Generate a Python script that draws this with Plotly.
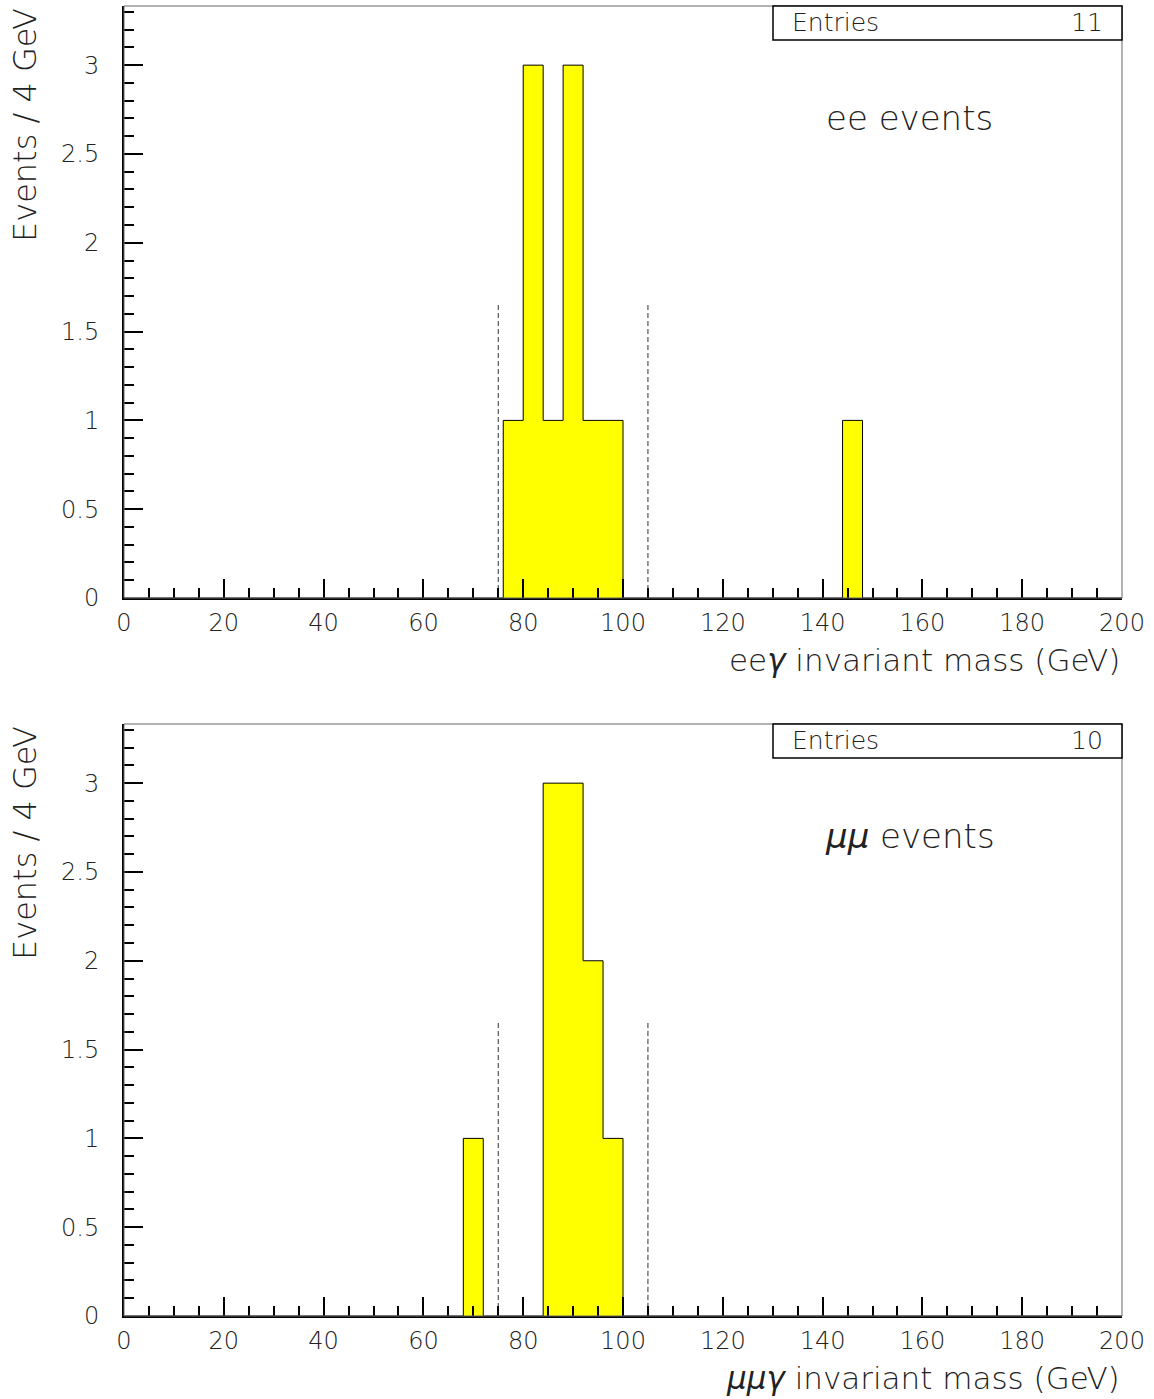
import numpy as np
import plotly.graph_objects as go

# ---- data ----
bin_width = 4
x_min, x_max = 0, 200
ee_bin_low = [76, 80, 84, 88, 92, 96, 144]
ee_counts = [1, 3, 1, 3, 1, 1, 1]
mm_bin_low = [68, 84, 88, 92, 96]
mm_counts = [1, 3, 3, 2, 1]
cut_lo, cut_hi, cut_height = 75, 105, 1.65
ee_entries = 11
mm_entries = 10
ee_label = "ee events"
mm_label = "<i>μμ</i> events"
ee_xtitle = "ee<i>γ</i> invariant mass (GeV)"
mm_xtitle = "<i>μμγ</i> invariant mass (GeV)"
ytitle = "Events / 4 GeV"

FONT = "DejaVu Sans"
TXT = "#222222"
WT = 200

fig = go.Figure()

edges = np.arange(x_min, x_max + bin_width, bin_width)
centers = edges[:-1] + bin_width / 2


def full_hist(lows, counts):
    h = np.zeros(len(centers))
    for lo, c in zip(lows, counts):
        h[int((lo - x_min) // bin_width)] = c
    return h


W, H = 1154, 1399
xdom = [124 / W, 1122 / W]
doms = [[1 - 598 / H, 1 - 6 / H], [1 - 1316 / H, 1 - 724 / H]]

panels = [
    (ee_bin_low, ee_counts, ee_entries, ee_label, ee_xtitle),
    (mm_bin_low, mm_counts, mm_entries, mm_label, mm_xtitle),
]

annotations = []
shapes = []
for i, (lows, counts, entries, label, xtitle) in enumerate(panels):
    xa = "x" if i == 0 else "x2"
    ya = "y" if i == 0 else "y2"
    h = full_hist(lows, counts)
    fig.add_trace(go.Bar(x=centers, y=h, width=bin_width, xaxis=xa, yaxis=ya,
                         marker=dict(color="#ffff00", line=dict(width=0)),
                         showlegend=False, hoverinfo="skip"))
    fig.add_trace(go.Scatter(x=edges, y=np.append(h, h[-1]), xaxis=xa, yaxis=ya,
                             mode="lines", line=dict(shape="hv", color="black", width=1),
                             showlegend=False, hoverinfo="skip"))
    for c in (cut_lo, cut_hi):
        fig.add_trace(go.Scatter(x=[c, c], y=[0, cut_height], xaxis=xa, yaxis=ya,
                                 mode="lines", line=dict(color="#333333", width=1, dash="5px,3px"),
                                 showlegend=False, hoverinfo="skip"))
    dom = doms[i]
    top_px = (1 - dom[1]) * H
    bot_px = (1 - dom[0]) * H
    shapes.append(dict(type="rect", xref="paper", yref="paper", x0=xdom[0], x1=xdom[1],
                       y0=dom[0], y1=dom[1], line=dict(color="#666666", width=1), layer="above"))
    shapes.append(dict(type="rect", xref="paper", yref="paper", x0=773 / W, x1=xdom[1],
                       y0=1 - (top_px + 34) / H, y1=dom[1], line=dict(color="black", width=1.5),
                       fillcolor="white", layer="above"))
    annotations.append(dict(xref="paper", yref="paper", x=790 / W, y=1 - (top_px + 17) / H,
                            text="Entries", showarrow=False, xanchor="left", yanchor="middle",
                            font=dict(family=FONT, size=25, color=TXT, weight=WT)))
    annotations.append(dict(xref="paper", yref="paper", x=1105 / W, y=1 - (top_px + 17) / H,
                            text=str(entries), showarrow=False, xanchor="right", yanchor="middle",
                            font=dict(family=FONT, size=25, color=TXT, weight=WT)))
    annotations.append(dict(xref=xa, yref=ya, x=157.5, y=2.70, text=label, showarrow=False,
                            xanchor="center", yanchor="middle",
                            font=dict(family=FONT, size=34, color=TXT, weight=WT)))
    annotations.append(dict(xref="paper", yref="paper", x=xdom[1], y=1 - (bot_px + 62) / H,
                            text=xtitle, showarrow=False, xanchor="right", yanchor="middle",
                            font=dict(family=FONT, size=31, color=TXT, weight=WT)))
    annotations.append(dict(xref="paper", yref="paper", x=25 / W, y=dom[1], text=ytitle,
                            textangle=-90, showarrow=False, xanchor="center", yanchor="top",
                            font=dict(family=FONT, size=32, color=TXT, weight=WT)))

axis_common = dict(showgrid=False, zeroline=False, showline=True, linecolor="black", linewidth=2,
                   ticks="inside", tickcolor="black", tickwidth=1.5, ticklen=19, automargin=False,
                   tickfont=dict(family=FONT, size=24, color=TXT, weight=WT))
xaxis_cfg = dict(axis_common, range=[x_min, x_max], tick0=0, dtick=20,
                 minor=dict(ticks="inside", ticklen=10, dtick=5, tickcolor="black", tickwidth=1.5),
                 ticklabelstandoff=2, domain=xdom)
yaxis_cfg = dict(axis_common, range=[0, 3.333], tick0=0, dtick=0.5,
                 minor=dict(ticks="inside", ticklen=10, dtick=0.1, tickcolor="black", tickwidth=1.5),
                 ticklabelstandoff=18)

fig.update_layout(
    width=W, height=H, margin=dict(l=0, r=0, t=0, b=0),
    paper_bgcolor="white", plot_bgcolor="white", bargap=0,
    xaxis=dict(xaxis_cfg, anchor="y"),
    yaxis=dict(yaxis_cfg, domain=doms[0], anchor="x"),
    xaxis2=dict(xaxis_cfg, anchor="y2"),
    yaxis2=dict(yaxis_cfg, domain=doms[1], anchor="x2"),
    shapes=shapes, annotations=annotations,
)

fig.write_html("out.html", config={"displayModeBar": False},
               post_script="document.body.style.margin='0';document.body.style.overflow='hidden';")
